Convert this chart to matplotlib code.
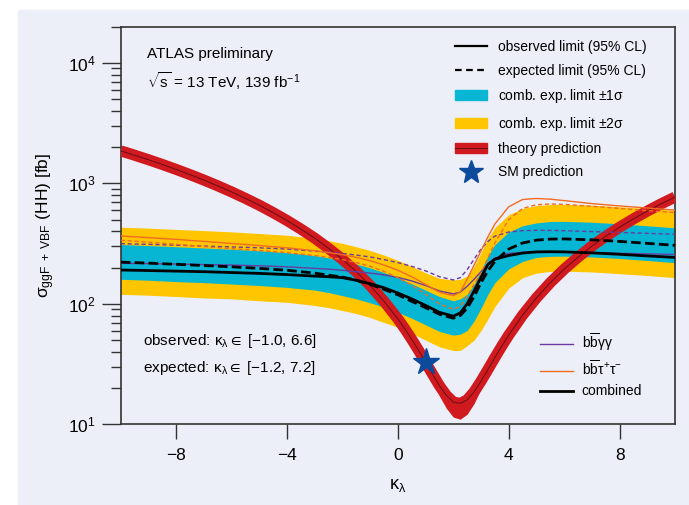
import matplotlib
matplotlib.use('Agg')
import matplotlib.pyplot as plt
from matplotlib.patches import Rectangle, Patch
from matplotlib.lines import Line2D

plt.rcParams['font.family'] = ['Liberation Sans', 'DejaVu Sans']
plt.rcParams['mathtext.fontset'] = 'custom'
plt.rcParams['mathtext.rm'] = 'Liberation Sans'
plt.rcParams['mathtext.it'] = 'Liberation Sans:italic'
plt.rcParams['mathtext.default'] = 'regular'

# theory prediction (ggF + VBF) vs kappa_lambda
k_th = [-10, -9.5, -9, -8.5, -8, -7.5, -7, -6.5, -6, -5.5, -5, -4.5, -4, -3.5, -3,
        -2.5, -2, -1.5, -1, -0.5, 0, 0.25, 0.5, 0.75, 1, 1.25, 1.5, 1.75, 2, 2.25,
        2.5, 2.75, 3, 3.25, 3.5, 3.75, 4, 4.5, 5, 5.5, 6, 6.5, 7, 7.5, 8, 8.5, 9, 9.5, 10]
theory = [1863, 1715, 1573, 1437, 1307, 1183, 1066, 955, 850, 751, 659, 572, 492, 418, 351,
          289, 234, 185, 142, 105, 75.0, 62.1, 50.7, 41.0, 32.7, 26.1, 20.9, 17.4, 15.3, 14.9,
          15.95, 18.6, 22.8, 28.5, 35.8, 44.6, 55.0, 80.5, 112, 150, 194, 244, 301, 364, 433, 508, 589, 677, 770]
theory_unc = [0.08] * 24 + [0.10, 0.14, 0.18, 0.22, 0.25, 0.26, 0.24, 0.2, 0.14, 0.1] + [0.08] * 15

# limits vs kappa_lambda
k = [-10, -9, -8, -7, -6, -5, -4, -3, -2.5, -2, -1.5, -1, -0.5, 0, 0.5, 1, 1.5, 2,
     2.25, 2.5, 2.75, 3, 3.25, 3.5, 4, 4.5, 5, 5.5, 6, 7, 8, 9, 10]
observed = [191, 189, 187, 185, 182, 179, 175, 170, 168, 165, 157, 147, 136, 123, 110, 97, 85, 79,
            84, 100, 128, 166, 212, 235, 252, 264, 270, 271, 270, 265, 258, 250, 243]
expected = [222, 218, 213, 208, 203, 197, 190, 180, 173, 167, 157, 145, 132, 119, 105, 93, 82, 76,
            80, 92, 115, 150, 188, 225, 285, 320, 338, 345, 346, 340, 330, 318, 306]
exp_m2 = [120, 118, 115, 112, 110, 106, 103, 97, 93, 88, 83, 77, 70, 64, 57, 50, 44, 41,
          41, 45, 50, 60, 75, 95, 135, 165, 180, 186, 187, 184, 178, 172, 165]
exp_m1 = [160, 157, 153, 150, 146, 142, 137, 130, 124, 117, 110, 102, 94, 85, 76, 67, 59, 55,
          56, 60, 72, 92, 120, 150, 195, 225, 243, 248, 249, 245, 238, 229, 220]
exp_p1 = [311, 305, 298, 291, 284, 276, 266, 252, 241, 228, 214, 199, 182, 165, 147, 130, 115, 106,
          110, 120, 145, 190, 250, 310, 395, 445, 470, 483, 484, 476, 462, 445, 428]
exp_p2 = [433, 425, 415, 406, 396, 384, 371, 351, 335, 318, 298, 277, 254, 230, 205, 181, 163, 158,
          160, 170, 205, 265, 350, 430, 550, 620, 655, 668, 670, 660, 640, 620, 597]
bbyy_obs = [217, 216, 214, 212, 210, 207, 203, 197, 194, 190, 185, 180, 174, 166, 155, 142, 128, 121,
            125, 140, 160, 185, 215, 240, 262, 268, 270, 270, 269, 266, 263, 260, 257]
bbyy_exp = [316, 312, 307, 302, 297, 292, 285, 274, 268, 262, 254, 245, 233, 220, 205, 188, 168, 158,
            165, 192, 235, 285, 330, 365, 395, 405, 408, 407, 405, 398, 392, 385, 378]
bbtt_obs = [366, 355, 343, 330, 317, 305, 292, 276, 267, 256, 243, 228, 210, 190, 168, 145, 125, 117,
            125, 160, 210, 275, 360, 460, 640, 735, 750, 740, 720, 680, 650, 625, 600]
bbtt_exp = [337, 325, 312, 299, 287, 277, 266, 252, 243, 233, 220, 205, 186, 165, 143, 120, 100, 90,
            95, 115, 145, 180, 240, 320, 500, 620, 665, 675, 670, 645, 620, 595, 572]

sm_k = [1.0]
sm_sigma = [32.7]

bg = '#edeff8'
yellow = '#ffc600'
cyan = '#06b6d2'
red = '#d11a20'
darkred = '#6e1014'
purple = '#6a3aa0'
orange = '#f26b21'
star_col = '#0c4b9c'

fig = plt.figure(figsize=(6.89, 5.05), dpi=100)
fig.patches.append(Rectangle((18 / 689, 0), 1 - 18 / 689, 495 / 505,
                             transform=fig.transFigure, color=bg, zorder=-10))
ax = fig.add_axes([0.1752, 0.1598, 0.8045, 0.7873])
ax.set_facecolor(bg)

ax.fill_between(k, exp_m2, exp_p2, color=yellow, lw=0, zorder=1)
ax.fill_between(k, exp_m1, exp_p1, color=cyan, lw=0, zorder=2)

th_lo = [t * (1 - u) for t, u in zip(theory, theory_unc)]
th_hi = [t * (1 + u * 0.3) for t, u in zip(theory, theory_unc)]
ax.fill_between(k_th, th_lo, th_hi, color=red, lw=0, zorder=3)
ax.plot(k_th, theory, color=red, lw=8, solid_capstyle='butt', zorder=3)
ax.plot(k_th, theory, color=darkred, lw=0.8, zorder=4)

ax.plot(k, bbyy_exp, color=purple, lw=1, ls=(0, (3, 2)), zorder=5)
ax.plot(k, bbyy_obs, color=purple, lw=1, zorder=5)
ax.plot(k, bbtt_exp, color=orange, lw=1, ls=(0, (3, 2)), zorder=5)
ax.plot(k, bbtt_obs, color=orange, lw=1, zorder=5)
ax.plot(k, expected, color='black', lw=2, ls=(0, (3.5, 1.5)), zorder=6)
ax.plot(k, observed, color='black', lw=2, zorder=6)

ax.plot(sm_k, sm_sigma, marker='*', ms=20, color=star_col, ls='none', zorder=10)

ax.set_yscale('log')
ax.set_xlim(-10, 10)
ax.set_ylim(10, 2e4)
ax.set_xticks([-8, -4, 0, 4, 8])
ax.set_xticklabels(['\u22128', '\u22124', '0', '4', '8'])
ax.tick_params(axis='x', length=11, width=1, pad=6, labelsize=12.5, color='#333333')
ax.tick_params(axis='y', which='major', length=14, width=1, pad=4, labelsize=12.5, color='#333333')
ax.tick_params(axis='y', which='minor', length=7.5, width=1, color='#333333')
for s in ax.spines.values():
    s.set_linewidth(1.2)
    s.set_color('#333333')

ax.set_xlabel(r'$\kappa_\lambda$', fontsize=13, labelpad=10)
ax.set_ylabel(r'$\sigma_{ggF\ +\ VBF}$ (HH) [fb]', fontsize=12.5, labelpad=8)

ax.text(0.047, 0.950, 'ATLAS preliminary', transform=ax.transAxes, fontsize=11, va='top')
ax.text(0.047, 0.890, r'$\sqrt{s}$ = 13 TeV, 139 fb$^{-1}$', transform=ax.transAxes, fontsize=11, va='top')
ax.text(0.040, 0.232, 'observed: $\\kappa_\\lambda \\in$ [\u22121.0, 6.6]', transform=ax.transAxes,
        fontsize=11, va='top')
ax.text(0.040, 0.165, 'expected: $\\kappa_\\lambda \\in$ [\u22121.2, 7.2]', transform=ax.transAxes,
        fontsize=11, va='top')

h1 = [Line2D([], [], color='black', lw=1.6),
      Line2D([], [], color='black', lw=1.6, ls=(0, (3, 2))),
      Patch(color=cyan),
      Patch(color=yellow),
      (Patch(color=red), Line2D([], [], color=darkred, lw=0.8)),
      Line2D([], [], marker='*', ms=18, color=star_col, ls='none')]
l1 = ['observed limit (95% CL)', 'expected limit (95% CL)', r'comb. exp. limit $\pm1\sigma$',
      r'comb. exp. limit $\pm2\sigma$', 'theory prediction', 'SM prediction']
leg1 = ax.legend(h1, l1, loc='upper left', bbox_to_anchor=(0.603, 0.966), frameon=False,
                 fontsize=10, handlelength=2.3, handleheight=0.7, handletextpad=0.8,
                 labelspacing=0.68, borderpad=0, borderaxespad=0)
ax.add_artist(leg1)

h2 = [Line2D([], [], color=purple, lw=1), Line2D([], [], color=orange, lw=1),
      Line2D([], [], color='black', lw=2)]
l2 = [r'$b\overline{b}\gamma\gamma$', r'$b\overline{b}\tau^{+}\tau^{-}$', 'combined']
ax.legend(h2, l2, loc='upper left', bbox_to_anchor=(0.7565, 0.232), frameon=False,
          fontsize=10, handlelength=2.4, handletextpad=0.6, labelspacing=0.42,
          borderpad=0, borderaxespad=0)

fig.savefig('out.png', dpi=100, facecolor='white')
